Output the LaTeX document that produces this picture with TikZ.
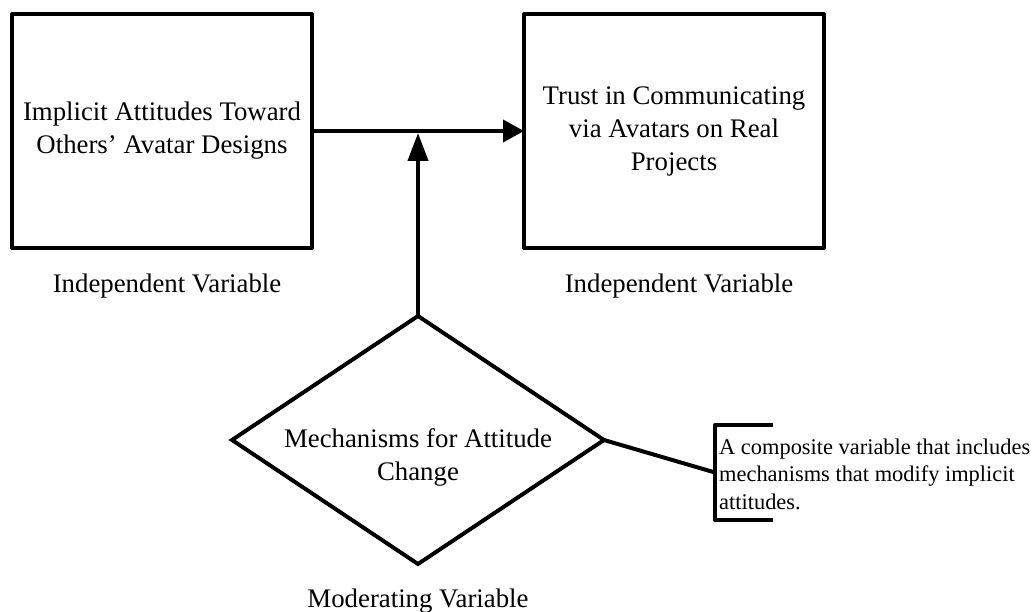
\documentclass[tikz,border=0pt]{standalone}
\usepackage{fontspec}
\setmainfont{Liberation Serif}
\usetikzlibrary{arrows.meta,shapes.geometric}
\newcommand{\fsMain}{\fontsize{26.8}{33}\selectfont}
\newcommand{\fsNote}{\fontsize{22.4}{27.5}\selectfont}
\begin{document}
\begin{tikzpicture}[x=1pt,y=-1pt,
  heavy/.style={line width=4pt},
  varbox/.style={draw, heavy, line join=round, minimum width=300pt, minimum height=234pt,
    inner sep=0pt, outer sep=0pt, align=center, font=\fsMain},
  decision/.style={draw, heavy, diamond, aspect=1.5, minimum width=372pt, minimum height=248pt,
    inner sep=0pt, outer sep=0pt},
  lbl/.style={inner sep=0pt, align=center, font=\fsMain},
  notetext/.style={inner sep=0pt, align=left, font=\fsNote, anchor=west},
  arr/.style={heavy, -{Triangle[length=21pt,width=22pt]}},
  uparr/.style={heavy, -{Triangle[length=28pt,width=20pt]}}]
\useasboundingbox (0,0) rectangle (1032,612);

\node[varbox] (iv) at (162,131) {Implicit Attitudes Toward\\Others’ Avatar Designs};
\node[varbox] (dv) at (674,131) {Trust in Communicating\\via Avatars on Real\\Projects};
\node[lbl] (ivlab) at (167,286) {Independent Variable};
\node[lbl] (dvlab) at (679,286) {Independent Variable};

\node[decision] (mod) at (418,440) {};
\node[lbl] (modtext) at (418,457) {Mechanisms for Attitude\\Change};
\node[lbl] (modlab) at (418,601) {Moderating Variable};

\coordinate (j) at (418,133);
\draw[arr] (iv.east) -- (dv.west);
\draw[uparr] (mod.north) -- (j);

\node[notetext] (note) at (719,474) {A composite variable that includes\\mechanisms that modify implicit\\attitudes.};
\coordinate (bt) at (773,425);
\coordinate (btl) at (715,425);
\coordinate (bbl) at (715,520);
\coordinate (bb) at (773,520);
\coordinate (bm) at (715,472.5);
\draw[heavy, line join=round] (bt) -- (btl) -- (bbl) -- (bb);
\draw[heavy] (mod.east) -- (bm);
\end{tikzpicture}
\end{document}
